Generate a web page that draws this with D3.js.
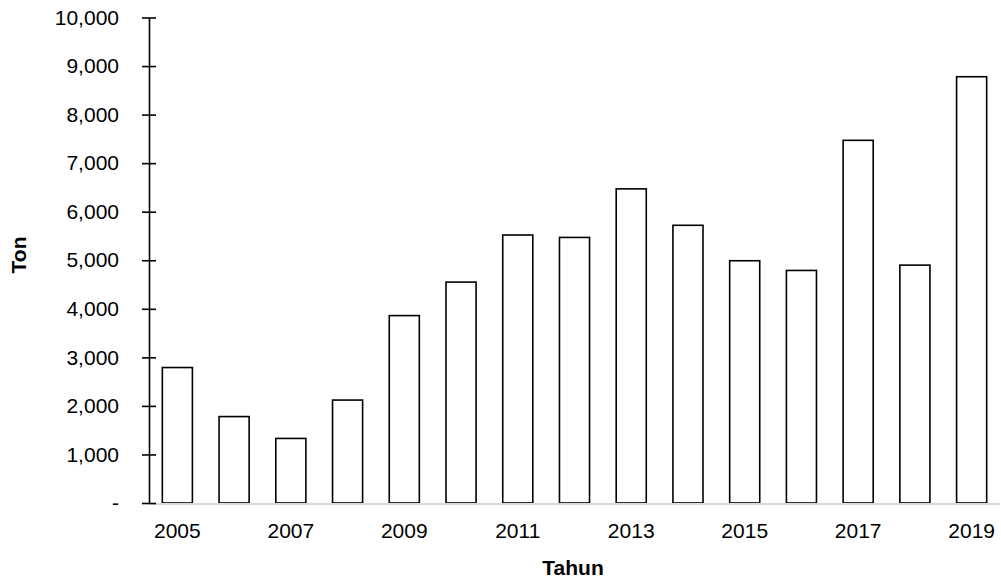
<!DOCTYPE html>
<html><head><meta charset="utf-8">
<script src="https://cdn.jsdelivr.net/npm/d3@7"></script>
<style>body{margin:0;background:#fff}</style>
</head><body>
<svg id="c" width="1001" height="583"></svg>
<script>
const years = ["2005","2006","2007","2008","2009","2010","2011","2012","2013","2014","2015","2016","2017","2018","2019"];
const values = [2790,1780,1330,2120,3860,4550,5520,5470,6470,5720,4990,4790,7470,4900,8780];
const yTicks = [0,1000,2000,3000,4000,5000,6000,7000,8000,9000,10000];
const xLabels = ["2005","2007","2009","2011","2013","2015","2017","2019"];

(function(){
const svg = d3.select("#c");
const font = "'Liberation Sans', Arial, sans-serif";
const fs = 21;
const mL = 149, mR = 1000, mT = 17.5, mB = 503;
const x = d3.scaleBand().domain(years).range([mL, mR]).paddingInner(0.47).paddingOuter(0.235);
const y = d3.scaleLinear().domain([0, 10000]).range([mB, mT]);

svg.selectAll("rect.bar").data(years).enter().append("rect")
  .attr("class","bar")
  .attr("x", d => x(d))
  .attr("y", (d,i) => y(values[i]))
  .attr("width", x.bandwidth())
  .attr("height", (d,i) => mB - y(values[i]))
  .attr("fill","#fff").attr("stroke","#000").attr("stroke-width",1.6);

svg.append("line").attr("x1",mL).attr("x2",mR).attr("y1",mB+1).attr("y2",mB+1)
  .attr("stroke","#d9d9d9").attr("stroke-width",2);

const fmt = d => d === 0 ? "-" : d3.format(",")(d);
const yAxis = d3.axisLeft(y).tickValues(yTicks).tickFormat(fmt).tickSizeInner(7).tickSizeOuter(0).tickPadding(0);
const gy = svg.append("g").attr("transform",`translate(${mL},0)`).call(yAxis);
gy.select(".domain").attr("stroke","#000").attr("stroke-width",1.6);
gy.selectAll(".tick line").attr("x1",-7).attr("x2",7).attr("stroke","#000").attr("stroke-width",1.6);
gy.selectAll(".tick text").attr("x",-30).attr("font-family",font).attr("font-size",fs).attr("fill","#000");

const gx = svg.append("g").attr("transform",`translate(0,${mB})`)
  .call(d3.axisBottom(x).tickValues(xLabels).tickSize(0).tickPadding(0));
gx.select(".domain").remove();
gx.selectAll(".tick text").attr("y",35).attr("dy",0).attr("font-family",font).attr("font-size",fs).attr("fill","#000");

svg.append("text").attr("x",573).attr("y",575).attr("text-anchor","middle")
  .attr("font-family",font).attr("font-size",fs).attr("font-weight","bold").text("Tahun");
svg.append("text").attr("transform","translate(26,255) rotate(-90)").attr("text-anchor","middle")
  .attr("font-family",font).attr("font-size",fs).attr("font-weight","bold").text("Ton");
})();
</script>
</body></html>
